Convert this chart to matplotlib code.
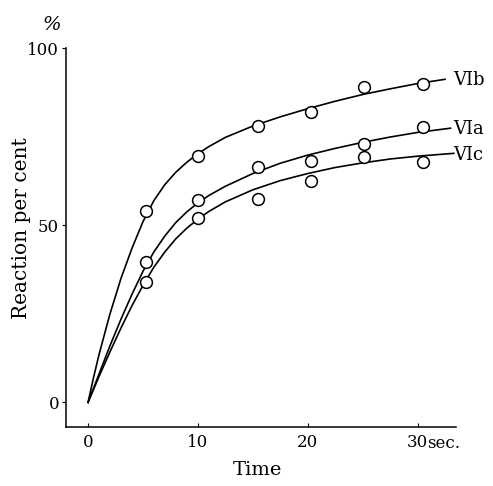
import numpy as np
import matplotlib.pyplot as plt

plt.rcParams['font.family'] = ['DejaVu Serif']

t_pts = [5.3, 10, 15.5, 20.3, 25.1, 30.5]
vib_pts = [54, 69.5, 78, 82, 89, 90]
via_pts = [39.5, 57, 66.5, 68, 73, 77.7]
vic_pts = [34, 52, 57.5, 62.4, 69.2, 67.8]

# hand-drawn curves
vib_t = [0, 0.5, 1, 2, 3, 4, 5, 6, 7, 8, 9, 10, 11, 12.5, 15, 17.5, 20, 22.5, 25, 27.5, 30, 32.5]
vib_y = [0, 7, 13.5, 25, 35, 43.5, 51, 57, 61.5, 65, 67.8, 70.2, 72.2, 74.8, 78, 80.6, 82.9, 85, 86.9, 88.5, 90, 91.2]
via_t = [0, 1, 2, 3, 4, 5, 6, 7, 8, 9, 10, 11, 12.5, 15, 17.5, 20, 22.5, 25, 27.5, 30, 33]
via_y = [0, 8, 16, 23.5, 30.5, 37, 42.5, 47, 50.8, 53.8, 56.3, 58.4, 61, 64.6, 67.5, 69.8, 71.7, 73.4, 74.9, 76.2, 77.4]
vic_t = [0, 1, 2, 3, 4, 5, 6, 7, 8, 9, 10, 11, 12.5, 15, 17.5, 20, 22.5, 25, 27.5, 30, 33.3]
vic_y = [0, 7.3, 14.3, 21, 27.3, 33, 38.2, 42.5, 46.2, 49.2, 51.7, 53.9, 56.6, 60, 62.6, 64.6, 66.3, 67.6, 68.7, 69.5, 70.3]

series = [('VIb', vib_t, vib_y, vib_pts, 91.0),
          ('VIa', via_t, via_y, via_pts, 77.3),
          ('VIc', vic_t, vic_y, vic_pts, 69.8)]

# %% plotting
fig = plt.figure(figsize=(4.93, 4.86), dpi=100)
ax = fig.add_axes([0.134, 0.121, 0.791, 0.780])

for name, ct, cy, pts, ylab in series:
    ax.plot(ct, cy, color='black', linewidth=1.2, zorder=2)
    ax.plot(t_pts, pts, linestyle='none', marker='o', markersize=8.5,
            markerfacecolor='white', markeredgecolor='black', markeredgewidth=1.1, zorder=3)
    ax.text(33.2, ylab, name, fontsize=13, ha='left', va='center')

ax.set_xlim(-2, 33.5)
ax.set_ylim(-7, 100)
ax.spines['top'].set_visible(False)
ax.spines['right'].set_visible(False)
ax.spines['left'].set_linewidth(1.1)
ax.spines['bottom'].set_linewidth(1.1)

ax.set_xticks([0, 10, 20, 30])
ax.set_xticklabels(['0', '10', '20', '30'])
ax.set_yticks([0, 50, 100])
ax.tick_params(axis='x', direction='in', length=3, labelsize=12, pad=5)
ax.tick_params(axis='y', direction='out', length=3, labelsize=12, pad=2)

ax.text(30.9, -13.0, 'sec.', fontsize=12, ha='left', va='baseline', clip_on=False)
fig.text(52 / 493, 1 - 25 / 486, '%', fontsize=14, style='italic', ha='center', va='center')

fig.text(257 / 493, 1 - 470 / 486, 'Time', fontsize=14, ha='center', va='center')
fig.text(22 / 493, 1 - 228 / 486, 'Reaction per cent', fontsize=14.5, rotation=90,
         ha='center', va='center')

plt.savefig('out.png', dpi=100)
